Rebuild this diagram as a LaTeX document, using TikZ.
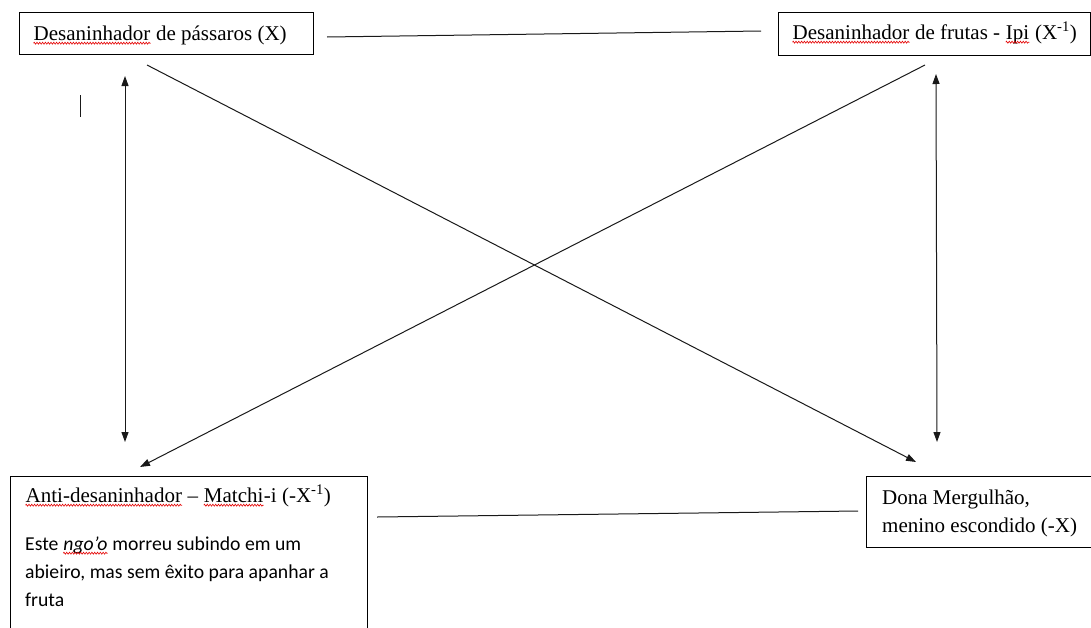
\documentclass[tikz,border=0pt]{standalone}
\usepackage{fontspec}
\setmainfont{Liberation Serif}
\newfontfamily\carlito{Carlito}
\usetikzlibrary{arrows.meta,decorations.pathmorphing}
\newcommand\spell[1]{\tikz[baseline=(sw.base)]{\node[inner sep=0pt, anchor=base west] (sw) at (0,0) {#1};
  \draw[red!90!black, line width=0.6pt, decorate, decoration={zigzag, amplitude=1pt, segment length=2.8pt}] ([yshift=-3.2pt]sw.base west) -- ([yshift=-3.2pt]sw.base east);}}
\tikzset{
  box/.style={draw=black, line width=1pt, anchor=north west, inner sep=0pt},
  lbl/.style={anchor=base west, inner sep=0pt, font=\fontsize{21}{25}\selectfont},
  body/.style={anchor=base west, inner sep=0pt, font=\carlito\fontsize{19.7}{24}\selectfont},
  conn/.style={line width=1pt, draw=black!90},
  tip/.style={-{Triangle[length=10pt,width=7pt]}},
  dtip/.style={{Triangle[length=10pt,width=7pt]}-{Triangle[length=10pt,width=7pt]}}
}
\begin{document}
\begin{tikzpicture}[x=1pt,y=-1pt]
\useasboundingbox[fill=white] (0,0) rectangle (1091,627);
% boxes
\node[box, minimum width=294pt, minimum height=42pt] (box1) at (19,12) {};
\node[box, minimum width=312pt, minimum height=43pt] (box2) at (778,12) {};
\node[box, minimum width=357pt, minimum height=170pt] (box3) at (10,476) {};
\node[box, minimum width=240pt, minimum height=71pt] (box4) at (866,476) {};
% texts
\node[lbl] (t1) at (33,40) {\spell{Desaninhador} de pássaros (X)};
\node[lbl] (t2) at (792,39) {\spell{Desaninhador} de frutas - \spell{Ipi} (X\textsuperscript{-1})};
\node[lbl] (t3a) at (25,502) {\spell{Anti-desaninhador} – \spell{Matchi}-i (-X\textsuperscript{-1})};
\node[body] (t3b) at (25,550) {Este \spell{\itshape ngo’o} morreu subindo em um};
\node[body] (t3c) at (25,578) {abieiro, mas sem êxito para apanhar a};
\node[body] (t3d) at (25,606) {fruta};
\node[lbl] (t4a) at (882,504) {Dona Mergulhão,};
\node[lbl] (t4b) at (882,532) {menino escondido (-X)};
% connector end points
\coordinate (a1) at (327,37);
\coordinate (a2) at (761,31);
\coordinate (b1) at (377,517);
\coordinate (b2) at (858,511);
\coordinate (l1) at (125,76);
\coordinate (l2) at (125,442);
\coordinate (r1) at (936,74);
\coordinate (r2) at (937,442);
\coordinate (d1a) at (147,65);
\coordinate (d1b) at (916,462);
\coordinate (d2a) at (925,65);
\coordinate (d2b) at (140,467);
\coordinate (m1) at (80,95);
\coordinate (m2) at (80,117);
% connectors
\draw[conn] (a1) -- (a2);
\draw[conn] (b1) -- (b2);
\draw[conn, dtip] (l1) -- (l2);
\draw[conn, dtip] (r1) -- (r2);
\draw[conn, tip] (d1a) -- (d1b);
\draw[conn, tip] (d2a) -- (d2b);
\draw[conn] (m1) -- (m2);
\end{tikzpicture}
\end{document}
